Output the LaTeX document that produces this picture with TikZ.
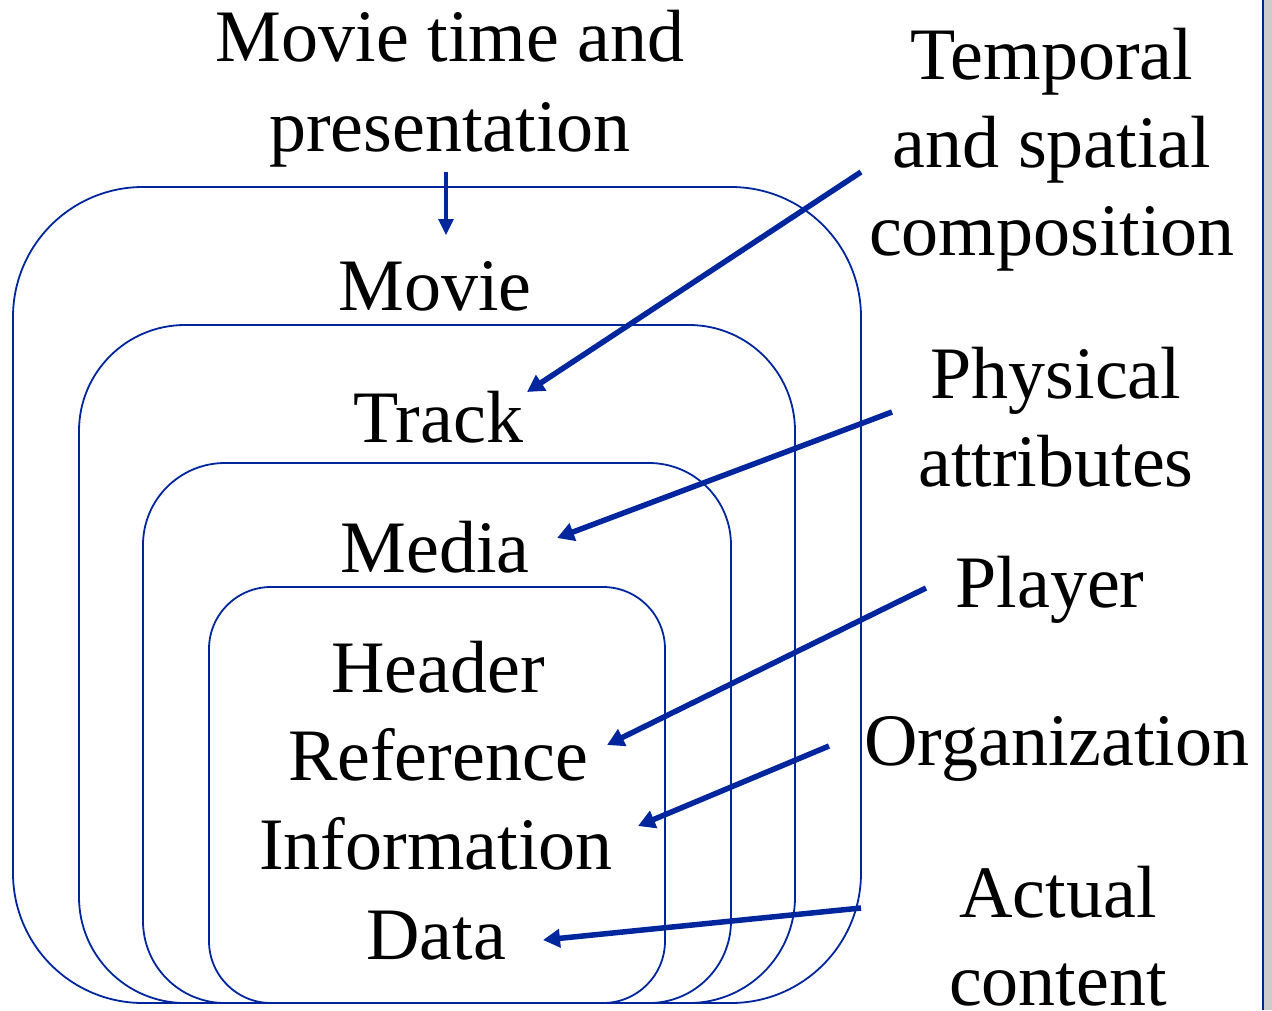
\documentclass[tikz,border=0pt]{standalone}
\usepackage{fontspec}
\setmainfont{Liberation Serif}
\usetikzlibrary{arrows.meta}
\definecolor{qtblue}{RGB}{0,38,158}
\tikzset{
  layer/.style={draw=qtblue, line width=1.8pt, rounded corners=#1},
  pointer/.style={qtblue, line width=5.5pt, -{Triangle[length=17pt,width=18pt]}},
  caption/.style={font=\fontsize{74}{88}\selectfont, align=center, inner sep=0pt, anchor=base}
}
\begin{document}
\begin{tikzpicture}[x=1pt,y=-1pt]
  \useasboundingbox (0,0) rectangle (1272,1010);
  \fill[black!20] (1264,0) rectangle (1272,1010);
  \draw[qtblue, line width=1.4pt] (1263,0) -- (1263,1010);
  % nested atoms
  \draw[layer=130pt] (13,187) rectangle (861,1003);
  \draw[layer=106pt] (79,325) rectangle (795,1003);
  \draw[layer=82pt] (143,463) rectangle (731,1003);
  \draw[layer=62pt] (209,587) rectangle (665,1003);
  % inner labels
  \node[caption] (movie) at (435,310) {Movie};
  \node[caption] (track) at (438,442) {Track};
  \node[caption] (media) at (435,572) {Media};
  \node[caption] (header) at (438,692) {Header};
  \node[caption] (reference) at (438,780) {Reference};
  \node[caption] (information) at (436,869) {Information};
  \node[caption] (data) at (436,959) {Data};
  % outer labels (base = last line)
  \node[caption, font=\fontsize{74}{90}\selectfont] (movietime) at (450,151) {Movie time and\\presentation};
  \node[caption] (temporal) at (1052,255) {Temporal\\and spatial\\composition};
  \node[caption] (physical) at (1056,486) {Physical\\attributes};
  \node[caption] (player) at (1050,607) {Player};
  \node[caption] (organization) at (1057,765) {Organization};
  \node[caption] (actual) at (1058,1005) {Actual\\content};
  % arrow ends
  \coordinate (mtFrom) at (446,172);
  \coordinate (mtTo) at (446,235);
  \coordinate (tsFrom) at (861,172);
  \coordinate (tsTo) at (527,392);
  \coordinate (paFrom) at (892,412);
  \coordinate (paTo) at (557,538);
  \coordinate (plFrom) at (926,588);
  \coordinate (plTo) at (607,745);
  \coordinate (orFrom) at (829,746);
  \coordinate (orTo) at (638,826);
  \coordinate (acFrom) at (861,908);
  \coordinate (acTo) at (543,940);
  \draw[pointer, line width=3.2pt, -{Triangle[length=16pt,width=15pt]}] (mtFrom) -- (mtTo);
  \draw[pointer] (tsFrom) -- (tsTo);
  \draw[pointer] (paFrom) -- (paTo);
  \draw[pointer] (plFrom) -- (plTo);
  \draw[pointer] (orFrom) -- (orTo);
  \draw[pointer] (acFrom) -- (acTo);
\end{tikzpicture}
\end{document}
